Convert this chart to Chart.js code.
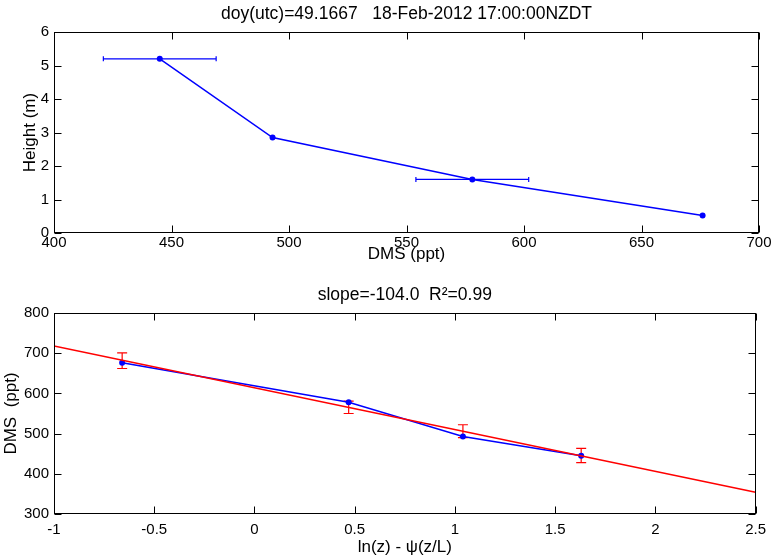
<!DOCTYPE html>
<html>
<head>
<meta charset="utf-8">
<script src="https://cdn.jsdelivr.net/npm/chart.js@4.4.1/dist/chart.umd.min.js"></script>
<style>
  html, body { margin: 0; padding: 0; background: #fff; }
  #wrap { position: relative; width: 773px; height: 558px; }
  canvas { position: absolute; left: 0; }
</style>
</head>
<body>
<div id="wrap">
  <canvas id="profile" width="773" height="270" style="top:0"></canvas>
  <canvas id="fit" width="773" height="288" style="top:270px"></canvas>
</div>
<script>
// measured profile (top panel)
var heights = [5.2, 2.85, 1.6, 0.52];
var dms = [445, 493, 578, 676];
var dmsErr = [24, 0, 24, 0];            // horizontal error bars

// log-height plot (bottom panel)
var logZ = [-0.66, 0.47, 1.04, 1.63];
var dmsByLogZ = [676, 578, 493, 445];
var fitX = [-1, 2.5];
var fitY = [718, 354];
var fitAtPts = [681.5, 565.5, 506, 445.5];
var fitErr = [19.5, 15.5, 16, 17.5];    // vertical error bars on the fit

var topTitle = 'doy(utc)=49.1667   18-Feb-2012 17:00:00NZDT';
var botTitle = 'slope=-104.0  R\u00B2=0.99';

var FONT = '"Liberation Sans", Arial, Helvetica, sans-serif';
Chart.defaults.font.family = FONT;
Chart.defaults.font.size = 15;
Chart.defaults.color = '#000';
var LABEL_FONT = { size: 17 };
var TITLE_FONT = { size: 17.5, weight: 'normal' };

// MATLAB style box with inward ticks
var boxPlugin = {
  id: 'box',
  afterDraw: function (chart) {
    var ctx = chart.ctx, a = chart.chartArea;
    var L = Math.round(a.left) + 0.5, R = Math.round(a.right) - 0.5;
    var T = Math.round(a.top) + 0.5, B = Math.round(a.bottom) - 0.5;
    ctx.save();
    ctx.strokeStyle = '#000';
    ctx.lineWidth = 1;
    ctx.beginPath();
    chart.scales.x.ticks.forEach(function (t) {
      var px = Math.round(chart.scales.x.getPixelForValue(t.value)) + 0.5;
      ctx.moveTo(px, B); ctx.lineTo(px, B - 7);
      ctx.moveTo(px, T); ctx.lineTo(px, T + 7);
    });
    chart.scales.y.ticks.forEach(function (t) {
      var py = Math.round(chart.scales.y.getPixelForValue(t.value)) + 0.5;
      ctx.moveTo(L, py); ctx.lineTo(L + 7, py);
      ctx.moveTo(R, py); ctx.lineTo(R - 7, py);
    });
    ctx.stroke();
    ctx.strokeRect(L, T, R - L, B - T);
    ctx.restore();
  }
};

// error bars drawn through the scales
function errPlugin(xs, ys, errs, horizontal, color, cap) {
  return {
    id: 'err',
    beforeDatasetsDraw: function (chart) {
      var ctx = chart.ctx, sx = chart.scales.x, sy = chart.scales.y;
      ctx.save();
      ctx.strokeStyle = color;
      ctx.lineWidth = 1.2;
      ctx.beginPath();
      for (var i = 0; i < xs.length; i++) {
        if (!errs[i]) continue;
        if (horizontal) {
          var y = sy.getPixelForValue(ys[i]);
          var x0 = sx.getPixelForValue(xs[i] - errs[i]);
          var x1 = sx.getPixelForValue(xs[i] + errs[i]);
          ctx.moveTo(x0, y); ctx.lineTo(x1, y);
          ctx.moveTo(x0, y - cap); ctx.lineTo(x0, y + cap);
          ctx.moveTo(x1, y - cap); ctx.lineTo(x1, y + cap);
        } else {
          var x = sx.getPixelForValue(xs[i]);
          var y0 = sy.getPixelForValue(ys[i] - errs[i]);
          var y1 = sy.getPixelForValue(ys[i] + errs[i]);
          ctx.moveTo(x, y0); ctx.lineTo(x, y1);
          ctx.moveTo(x - cap, y0); ctx.lineTo(x + cap, y0);
          ctx.moveTo(x - cap, y1); ctx.lineTo(x + cap, y1);
        }
      }
      ctx.stroke();
      ctx.restore();
    }
  };
}

function pts(xs, ys) {
  return xs.map(function (x, i) { return { x: x, y: ys[i] }; });
}

function fixW(w) { return function (s) { s.width = w; }; }
function fixH(h) { return function (s) { s.height = h; }; }
function plain(v) { return String(v); }

new Chart(document.getElementById('profile').getContext('2d'), {
  type: 'scatter',
  data: {
    datasets: [{
      data: pts(dms, heights),
      showLine: true,
      borderColor: '#0000ff',
      backgroundColor: '#0000ff',
      borderWidth: 1.5,
      pointRadius: 3,
      pointBorderWidth: 0
    }]
  },
  options: {
    responsive: false,
    animation: false,
    layout: { padding: { left: 0, right: 14, top: 0, bottom: 0 } },
    plugins: {
      legend: { display: false },
      tooltip: { enabled: false },
      title: {
        display: true, text: topTitle, fullSize: false,
        font: TITLE_FONT, color: '#000',
        padding: { top: 3.5, bottom: 7.5 }
      }
    },
    scales: {
      x: {
        type: 'linear', min: 400, max: 700,
        ticks: { stepSize: 50, padding: 1, maxRotation: 0, callback: plain },
        grid: { display: false, drawTicks: false },
        border: { display: false },
        title: { display: true, text: 'DMS (ppt)', font: LABEL_FONT, padding: { top: 0, bottom: 5.8 } },
        afterFit: fixH(37)
      },
      y: {
        type: 'linear', min: 0, max: 6,
        ticks: { stepSize: 1, padding: 5, callback: plain },
        grid: { display: false, drawTicks: false },
        border: { display: false },
        title: { display: true, text: 'Height (m)', font: LABEL_FONT, padding: { top: 19.8, bottom: 0 } },
        afterFit: fixW(54)
      }
    }
  },
  plugins: [boxPlugin, errPlugin(dms, heights, dmsErr, true, '#0000ff', 2.5)]
});

new Chart(document.getElementById('fit').getContext('2d'), {
  type: 'scatter',
  data: {
    datasets: [{
      data: pts(fitX, fitY),
      showLine: true,
      borderColor: '#ff0000',
      borderWidth: 1.5,
      pointRadius: 0
    }, {
      data: pts(logZ, dmsByLogZ),
      showLine: true,
      borderColor: '#0000ff',
      backgroundColor: '#0000ff',
      borderWidth: 1.5,
      pointRadius: 3,
      pointBorderWidth: 0
    }]
  },
  options: {
    responsive: false,
    animation: false,
    layout: { padding: { left: 0, right: 14, top: 0, bottom: 0 } },
    plugins: {
      legend: { display: false },
      tooltip: { enabled: false },
      title: {
        display: true, text: botTitle, fullSize: false,
        font: TITLE_FONT, color: '#000',
        padding: { top: 14.5, bottom: 7.5 }
      }
    },
    scales: {
      x: {
        type: 'linear', min: -1, max: 2.5,
        ticks: { stepSize: 0.5, padding: 7, maxRotation: 0, callback: plain },
        grid: { display: false, drawTicks: false },
        border: { display: false },
        title: { display: true, text: 'ln(z) - \u03C8(z/L)', font: LABEL_FONT, padding: { top: 0, bottom: 0.8 } },
        afterFit: fixH(44)
      },
      y: {
        type: 'linear', min: 300, max: 800,
        ticks: { stepSize: 100, padding: 5, callback: plain },
        grid: { display: false, drawTicks: false },
        border: { display: false },
        title: { display: true, text: 'DMS  (ppt)', font: LABEL_FONT, padding: { top: 0.8, bottom: 0 } },
        afterFit: fixW(54)
      }
    }
  },
  plugins: [boxPlugin, errPlugin(logZ, fitAtPts, fitErr, false, '#ff0000', 5)]
});
</script>
</body>
</html>
